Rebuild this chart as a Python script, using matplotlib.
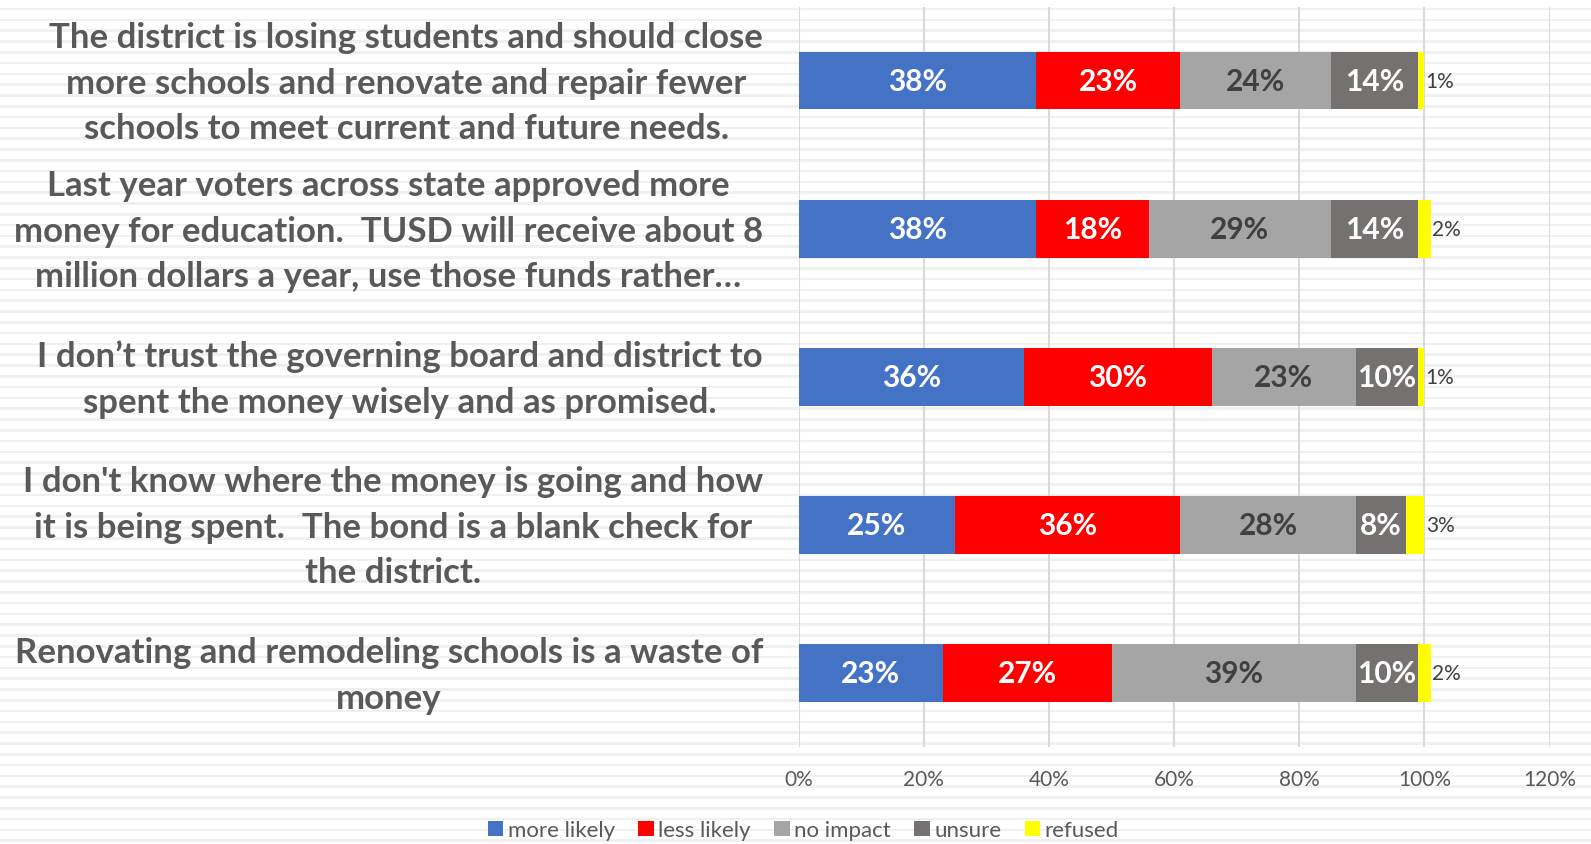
import matplotlib
matplotlib.use("Agg")
import matplotlib.pyplot as plt
import matplotlib.transforms as mtransforms
import numpy as np

plt.rcParams['font.family'] = ['Lato', 'DejaVu Sans']

# survey statements, top to bottom
statements = [
    "The district is losing students and should close\nmore schools and renovate and repair fewer\nschools to meet current and future needs.",
    "Last year voters across state approved more\nmoney for education.  TUSD will receive about 8\nmillion dollars a year, use those funds rather\u2026",
    "I don\u2019t trust the governing board and district to\nspent the money wisely and as promised.",
    "I don't know where the money is going and how\nit is being spent.  The bond is a blank check for\nthe district.",
    "Renovating and remodeling schools is a waste of\nmoney",
]

# percent of respondents per answer
more_likely = [38, 38, 36, 25, 23]
less_likely = [23, 18, 30, 36, 27]
no_impact = [24, 29, 23, 28, 39]
unsure = [14, 14, 10, 8, 10]
refused = [1, 2, 1, 3, 2]

series_names = ["more likely", "less likely", "no impact", "unsure", "refused"]
series_colors = ["#4472C4", "#FF0000", "#A5A5A5", "#767171", "#FFFF00"]
label_colors = ["white", "white", "#404040", "white", None]

fig = plt.figure(figsize=(15.91, 8.45), dpi=100)

# striped background
bg = fig.add_axes([0, 0, 1, 1], zorder=-10)
bg.set_xlim(0, 1)
bg.set_ylim(0, 845)
for y0 in np.arange(2, 845, 10.8):
    bg.axhspan(y0, y0 + 2.6, color="#F0F0F0", lw=0)
bg.axis("off")

ax = fig.add_axes([0.502, 0.115, 0.472, 0.876])
ax.patch.set_alpha(0)

y = np.arange(len(statements))
data = [more_likely, less_likely, no_impact, unsure, refused]
left = np.zeros(len(statements))
for vals, name, col, lcol in zip(data, series_names, series_colors, label_colors):
    vals = np.array(vals) / 100
    ax.barh(y, vals, left=left, height=0.39, color=col, label=name, zorder=3)
    for yi, l, v in zip(y, left, vals):
        txt = f"{round(v * 100)}%"
        if lcol is None:
            ax.text(l + v + 0.002, yi, txt, ha="left", va="center",
                    fontsize=15, color="#404040", zorder=4)
        else:
            ax.text(l + v / 2, yi, txt, ha="center", va="center",
                    fontsize=21.5, fontweight="bold", color=lcol, zorder=4)
    left = left + vals

ax.set_xlim(0, 1.2)
ax.set_ylim(len(statements) - 0.5, -0.5)
ax.set_xticks(np.arange(0, 1.21, 0.2))
ax.set_xticklabels([f"{int(round(t * 100))}%" for t in np.arange(0, 1.21, 0.2)])
ax.tick_params(axis="x", length=0, pad=16, labelsize=15, labelcolor="#595959")
ax.set_yticks(y)
ax.set_yticklabels([])
ax.tick_params(axis="y", length=0)

# statement labels, right-aligned block with centred lines
label_trans = mtransforms.blended_transform_factory(fig.transFigure, ax.transData) \
    + mtransforms.ScaledTranslation(0, -0.02, fig.dpi_scale_trans)
for yi, s in zip(y, statements):
    ax.text(0.4796, yi, s, transform=label_trans, ha="right", va="center",
            multialignment="center", linespacing=1.52, fontsize=25,
            fontweight="bold", color="#595959")

ax.grid(axis="x", color="#D9D9D9", lw=1.5, zorder=0)
for s in ax.spines.values():
    s.set_visible(False)

fig.legend(loc="center", bbox_to_anchor=(0.505, 0.016), ncol=5, frameon=False,
           fontsize=16, handlelength=0.7, handleheight=0.7, handletextpad=0.2,
           columnspacing=1.05, labelcolor="#595959")

fig.savefig("out.png", dpi=100)
